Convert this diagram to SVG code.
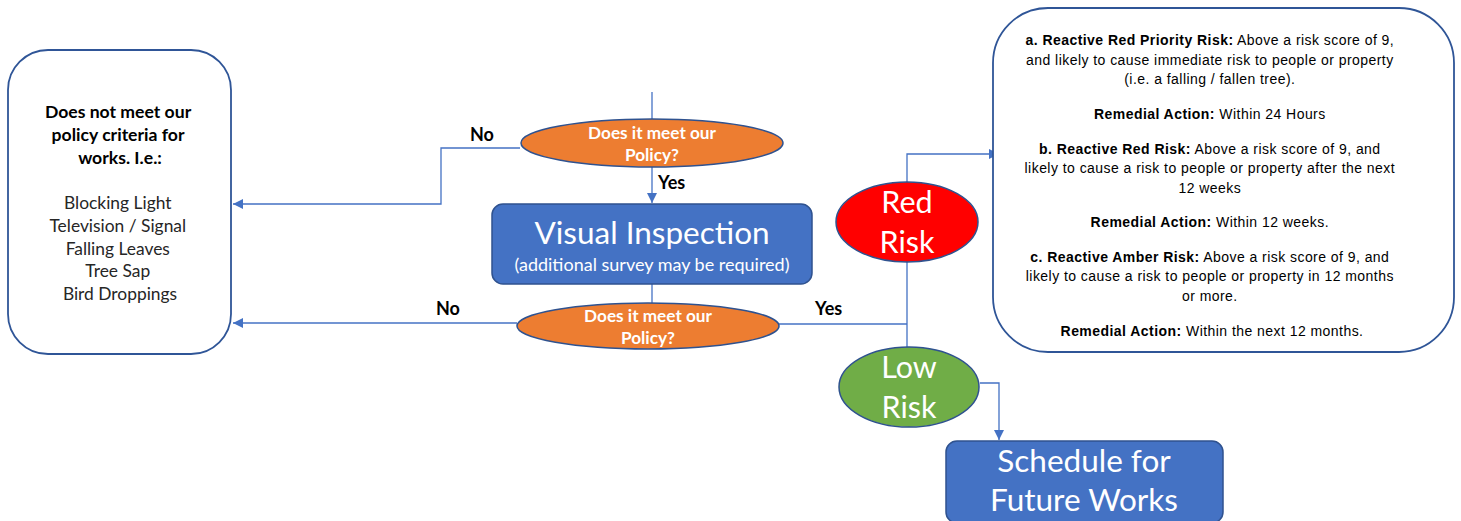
<svg xmlns="http://www.w3.org/2000/svg" width="1461" height="521" viewBox="0 0 1461 521">
<defs>
<marker id="arr" viewBox="0 0 10 10" refX="10" refY="5" markerWidth="10" markerHeight="10" markerUnits="userSpaceOnUse" orient="auto">
<path d="M0,0 L10,5 L0,10 z" fill="#4472C4"/>
</marker>
<style>
.c{fill:none;stroke:#4472C4;stroke-width:1.3}
.lab{font-family:Lato,"Liberation Sans",sans-serif;font-weight:bold;font-size:18px;fill:#000}
.wb{font-family:Lato,"Liberation Sans",sans-serif;fill:#fff;text-anchor:middle}
.dec{fill:#ED7D31;stroke:#2F528F;stroke-width:1.5}
.box{fill:#4472C4;stroke:#2F528F;stroke-width:1.5}
.ar{font-family:"Liberation Sans",Arial,sans-serif;font-size:14px;letter-spacing:0.45px;fill:#000;text-anchor:middle}
.ar tspan.b{font-weight:bold}
</style>
</defs>
<rect width="1461" height="521" fill="#fff"/>

<g id="connectors">
<path class="c" d="M652,92 V119"/>
<path class="c" d="M520,148 H441 V204 H233" marker-end="url(#arr)"/>
<path class="c" d="M652,166 V203" marker-end="url(#arr)"/>
<path class="c" d="M652,284 V303"/>
<path class="c" d="M517,323 H233" marker-end="url(#arr)"/>
<path class="c" d="M779,324 H907"/>
<path class="c" d="M907,347 V154 H999" marker-end="url(#arr)"/>
<path class="c" d="M980,383 H999 V440" marker-end="url(#arr)"/>
<text class="lab" x="470" y="141">No</text>
<text class="lab" x="658" y="189">Yes</text>
<text class="lab" x="436" y="315">No</text>
<text class="lab" x="815" y="315">Yes</text>
</g>

<g id="not-policy">
<rect x="8" y="50" width="223" height="304" rx="40" fill="#fff" stroke="#2F5597" stroke-width="1.8"/>
<text font-family="Lato,'Liberation Sans',sans-serif" font-weight="bold" font-size="17.6" text-anchor="middle" fill="#000">
<tspan x="120" y="118">Does not meet our</tspan>
<tspan x="120" y="141">policy criteria for</tspan>
<tspan x="120" y="164">works. I.e.:</tspan>
</text>
<text font-family="Lato,'Liberation Sans',sans-serif" font-size="17.4" text-anchor="middle" fill="#262626">
<tspan x="120" y="209">Blocking Light</tspan>
<tspan x="120" y="232">Television / Signal</tspan>
<tspan x="120" y="255">Falling Leaves</tspan>
<tspan x="120" y="277">Tree Sap</tspan>
<tspan x="120" y="300">Bird Droppings</tspan>
</text>
</g>

<g id="decision1">
<ellipse class="dec" cx="652" cy="143" rx="131" ry="24"/>
<text class="wb" font-weight="bold" font-size="17.2"><tspan x="652" y="139">Does it meet our</tspan><tspan x="652" y="161">Policy?</tspan></text>
</g>

<g id="visual-inspection">
<rect class="box" x="492" y="204" width="320" height="80" rx="11"/>
<text class="wb" x="652" y="244" font-size="31.5">Visual Inspection</text>
<text class="wb" x="652" y="271" font-size="18">(additional survey may be required)</text>
</g>

<g id="decision2">
<ellipse class="dec" cx="648" cy="326" rx="131" ry="23"/>
<text class="wb" font-weight="bold" font-size="17.2"><tspan x="648" y="322">Does it meet our</tspan><tspan x="648" y="344">Policy?</tspan></text>
</g>

<g id="red-risk">
<ellipse cx="907" cy="222" rx="71" ry="40" fill="#FF0000" stroke="#2F528F" stroke-width="1.5"/>
<text class="wb" font-size="30.5"><tspan x="907" y="213">Red</tspan><tspan x="907" y="253">Risk</tspan></text>
</g>

<g id="low-risk">
<ellipse cx="909" cy="387" rx="70" ry="40" fill="#70AD47" stroke="#2F528F" stroke-width="1.5"/>
<text class="wb" font-size="30.5"><tspan x="909" y="378">Low</tspan><tspan x="909" y="418">Risk</tspan></text>
</g>

<g id="schedule">
<rect class="box" x="946" y="441" width="277" height="82" rx="11"/>
<text class="wb" font-size="31.5"><tspan x="1084" y="472">Schedule for</tspan><tspan x="1084" y="511">Future Works</tspan></text>
</g>

<g id="risk-levels">
<rect x="993" y="8" width="461" height="344" rx="55" fill="#fff" stroke="#2F5597" stroke-width="1.8"/>
<text class="ar">
<tspan x="1212" y="45"><tspan class="b">a. Reactive Red Priority Risk:</tspan> Above a risk score of 9,</tspan>
<tspan x="1212" y="65">and likely to cause immediate risk to people or property</tspan>
<tspan x="1212" y="84">(i.e. a falling / fallen tree).</tspan>
<tspan x="1212" y="119"><tspan class="b">Remedial Action:</tspan> Within 24 Hours</tspan>
<tspan x="1212" y="154"><tspan class="b">b. Reactive Red Risk:</tspan> Above a risk score of 9, and</tspan>
<tspan x="1212" y="173">likely to cause a risk to people or property after the next</tspan>
<tspan x="1212" y="193">12 weeks</tspan>
<tspan x="1212" y="227"><tspan class="b">Remedial Action:</tspan> Within 12 weeks.</tspan>
<tspan x="1212" y="262"><tspan class="b">c. Reactive Amber Risk:</tspan> Above a risk score of 9, and</tspan>
<tspan x="1212" y="281">likely to cause a risk to people or property in 12 months</tspan>
<tspan x="1212" y="301">or more.</tspan>
<tspan x="1212" y="336"><tspan class="b">Remedial Action:</tspan> Within the next 12 months.</tspan>
</text>
</g>
</svg>
